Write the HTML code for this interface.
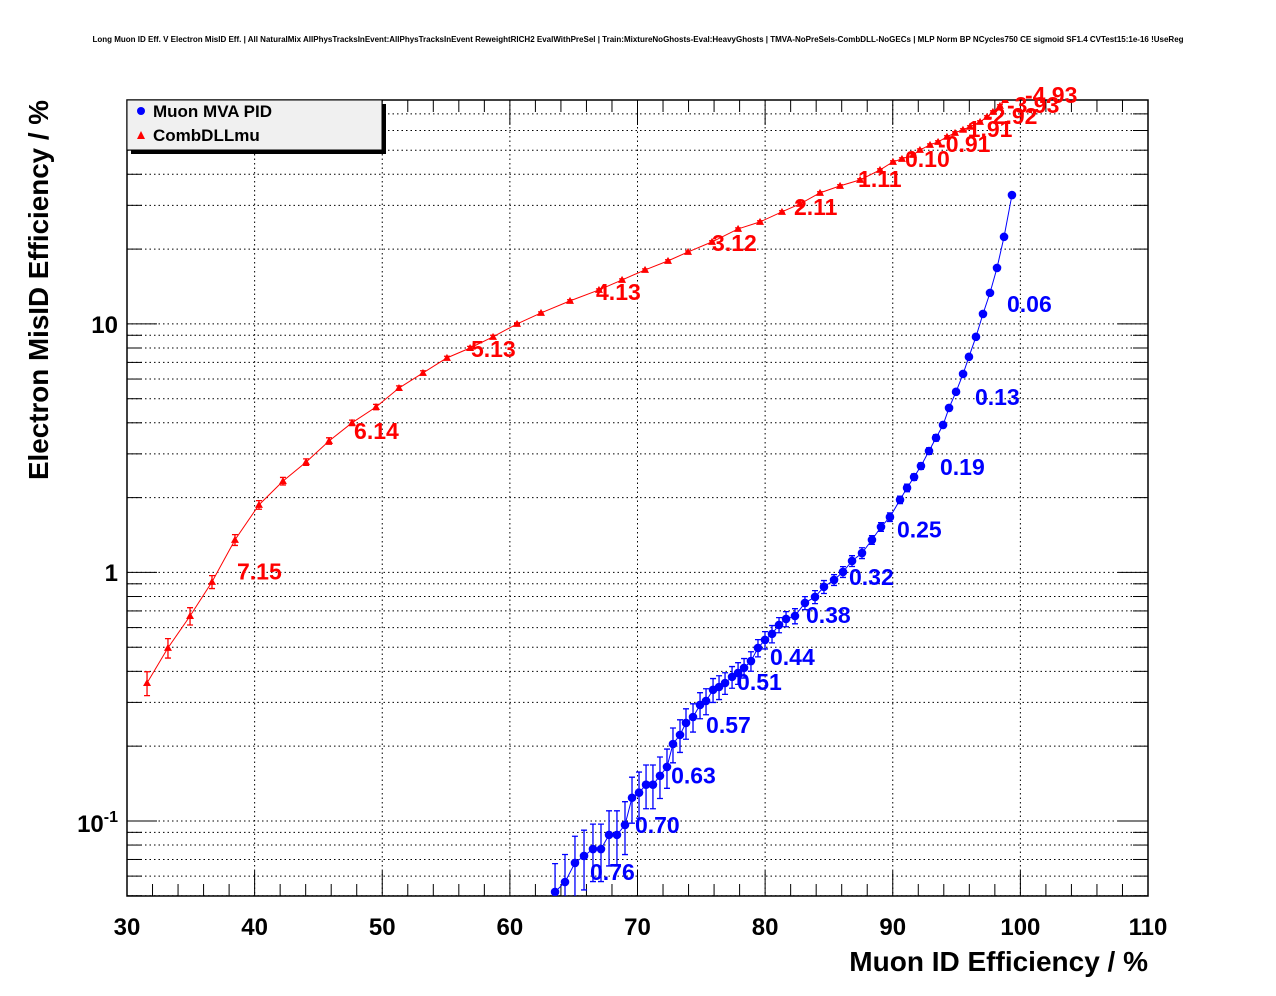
<!DOCTYPE html>
<html><head><meta charset="utf-8"><style>
body{margin:0;background:#fff}
svg{display:block;font-family:"Liberation Sans",Arial,sans-serif}
</style></head><body>
<svg id="chart" width="1276" height="996" viewBox="0 0 1276 996">
<text x="638" y="42" font-size="8" font-weight="bold" text-anchor="middle">Long Muon ID Eff. V Electron MisID Eff. | All NaturalMix AllPhysTracksInEvent:AllPhysTracksInEvent ReweightRICH2 EvalWithPreSel | Train:MixtureNoGhosts-Eval:HeavyGhosts | TMVA-NoPreSels-CombDLL-NoGECs | MLP Norm BP NCycles750 CE sigmoid SF1.4 CVTest15:1e-16 !UseReg</text>
<g id="grid"></g>
<g id="axes"></g>
<g id="series"></g>
<text x="1148" y="971" font-size="28" font-weight="bold" text-anchor="end">Muon ID Efficiency / %</text>
<text transform="translate(48,100) rotate(-90)" font-size="27.8" font-weight="bold" text-anchor="end">Electron MisID Efficiency / %</text>
<g>
<rect x="131" y="104" width="255" height="50" fill="#000"/>
<rect x="127" y="100" width="255" height="50" fill="#f0f0f0" stroke="#000" stroke-width="1"/>
<circle cx="141" cy="111" r="4" fill="#0000ff"/>
<text x="153" y="117" font-size="17" font-weight="bold">Muon MVA PID</text>
<path d="M141,131 L145,139 L137,139 Z" fill="#ff0000"/>
<text x="153" y="141" font-size="17" font-weight="bold">CombDLLmu</text>
</g>
</svg>
<script>
const blueX=[63.54,64.32,65.10,65.81,66.51,67.14,67.77,68.39,69.02,69.57,70.12,70.67,71.21,71.76,72.31,72.78,73.33,73.80,74.35,74.90,75.37,75.92,76.39,76.86,77.41,77.88,78.35,78.89,79.44,79.99,80.54,81.09,81.64,82.34,83.12,83.91,84.61,85.40,86.10,86.81,87.59,88.37,89.08,89.78,90.57,91.12,91.67,92.21,92.84,93.39,93.94,94.41,94.96,95.51,95.97,96.52,97.07,97.62,98.17,98.72,99.34];
const blueY=[0.0518,0.0568,0.0678,0.0723,0.0771,0.0771,0.0879,0.0879,0.0964,0.124,0.130,0.140,0.140,0.152,0.165,0.204,0.222,0.248,0.262,0.293,0.304,0.337,0.346,0.359,0.380,0.394,0.413,0.440,0.497,0.535,0.566,0.615,0.650,0.668,0.754,0.797,0.875,0.933,1.005,1.112,1.197,1.352,1.525,1.67,1.96,2.19,2.42,2.68,3.08,3.48,3.92,4.59,5.33,6.29,7.37,8.87,10.97,13.33,16.8,22.4,33.0];
const blueErrPct=[30,29,28,27,26,26,25,25,24,21,21,20,20,19,18,16,15,14,13,12,12,11,11,10,10,10,9,9,8,8,8,7,7,7,6,6,6,5,5,5,5,4,4,4,3.5,3.5,3,3,3,3,2.5,2.5,2,2,2,2,2,2,2,1.5,1.5];
const redX=[31.57,33.21,34.94,36.66,38.46,40.34,42.22,44.03,45.83,47.63,49.51,51.31,53.19,55.07,56.88,58.68,60.56,62.44,64.71,66.98,68.79,70.59,72.39,73.96,75.84,77.88,79.60,81.32,82.73,84.30,85.87,87.44,89.00,90.02,90.72,91.59,92.13,92.92,93.55,94.25,94.88,95.50,96.05,96.84,97.38,97.85,98.40,98.80,99.3,99.8];
const redY=[0.359,0.497,0.668,0.916,1.352,1.87,2.33,2.78,3.38,4.00,4.63,5.52,6.35,7.30,8.00,8.87,10.0,11.07,12.38,13.70,15.03,16.49,17.93,19.48,21.38,24.11,25.73,28.24,30.40,33.67,35.93,37.97,41.66,44.87,46.13,47.86,50.12,52.5,54.0,56.6,58.7,60.4,62.1,65.0,68.1,71.3,75.4,79.6,84,88];
const redErrPct=[11,9,8,6,5,4,3.5,3,3,2.5,2.5,2,2,1.5,1.5,1.5,1,1,1,1,1,1,1,1,1,1,1,1,1,1,1,1,1,1,1,1,1,1,1,1,1,1,1,1,1,1,1,1,1,1];
const blueLabels=["0.06","0.13","0.19","0.25","0.32","0.38","0.44","0.51","0.57","0.63","0.70","0.76"];
const blueLabelX=[98.95,96.44,93.70,90.33,86.57,83.20,80.38,77.80,75.37,72.63,69.80,66.28];
const blueLabelY=[11.8,4.99,2.61,1.46,0.942,0.662,0.449,0.356,0.239,0.150,0.0946,0.0612];
const redLabels=["7.15","6.14","5.13","4.13","3.12","2.11","1.11","0.10","-0.91","-1.91","-2.92","-3.93","-4.93"];
const redLabelX=[38.62,47.79,56.95,66.75,75.84,82.26,87.28,90.96,93.55,95.27,97.23,98.95,100.36];
const redLabelY=[0.991,3.64,7.79,13.2,20.8,29.0,37.6,45.3,52.0,59.8,67.5,74.6,81.9];
const xTicks=[30,40,50,60,70,80,90,100,110];

const L=127,R=1148,T=100,B=896,XMIN=30,XMAX=110,YMIN=Math.log10(0.0499),YMAX=Math.log10(79.6);
const sx=v=>L+(v-XMIN)/(XMAX-XMIN)*(R-L);
const sy=v=>B-(Math.log10(v)-YMIN)/(YMAX-YMIN)*(B-T);
const NS="http://www.w3.org/2000/svg";
function mk(tag,parent,attrs){const e=document.createElementNS(NS,tag);for(const k in attrs)e.setAttribute(k,attrs[k]);parent.appendChild(e);return e;}
const grid=document.getElementById('grid'),axes=document.getElementById('axes'),series=document.getElementById('series');
for(let v=30;v<=110;v+=2){const x=sx(v);const major=v%10===0;
 if(major&&v>30&&v<110){const g=mk('line',grid,{x1:x,x2:x,y1:T,y2:B,stroke:'#000','stroke-dasharray':'1.5,3','stroke-width':1});}
 const len=major?25:12;
 mk('line',axes,{x1:x,x2:x,y1:B,y2:B-len,stroke:'#000'});
 mk('line',axes,{x1:x,x2:x,y1:T,y2:T+len,stroke:'#000'});
}
xTicks.forEach(v=>{const t=mk('text',axes,{x:sx(v),y:935,'font-size':24,'font-weight':'bold','text-anchor':'middle'});t.textContent=v;
 });
for(let d=-2;d<=1;d++){for(let m=1;m<=9;m++){const v=m*Math.pow(10,d);if(v<0.0499||v>79.6)continue;const y=sy(v);
 const g=mk('line',grid,{x1:L,x2:R,y1:y,y2:y,stroke:'#000','stroke-dasharray':'1.5,3','stroke-width':1});
 
 const len=m===1?30:15;
 mk('line',axes,{x1:L,x2:L+len,y1:y,y2:y,stroke:'#000'});
 mk('line',axes,{x1:R,x2:R-len,y1:y,y2:y,stroke:'#000'});}}
mk('rect',axes,{x:L,y:T,width:R-L,height:B-T,fill:'none',stroke:'#000','stroke-width':1.5});
let t=mk('text',axes,{x:118,y:333,'font-size':24,'font-weight':'bold','text-anchor':'end'});t.textContent='10';

t=mk('text',axes,{x:118,y:581,'font-size':24,'font-weight':'bold','text-anchor':'end'});t.textContent='1';

t=mk('text',axes,{x:118,y:832,'font-size':24,'font-weight':'bold','text-anchor':'end'});

t.innerHTML='10<tspan font-size="16" dy="-10">-1</tspan>';
const defs=mk('defs',document.getElementById('chart'),{});const cp=mk('clipPath',defs,{id:'clip'});mk('rect',cp,{x:L,y:T,width:R-L,height:B-T});
function drawSeries(xs,ys,errs,color,shape,name){
 const g=mk('g',series,{'clip-path':'url(#clip)'});
 const pts=xs.map((x,i)=>sx(x)+','+sy(ys[i])).join(' ');
 mk('polyline',g,{points:pts,fill:'none',stroke:color,'stroke-width':1});
 xs.forEach((x,i)=>{const px=sx(x),py=sy(ys[i]);const e=ys[i]*errs[i]/100;
  const y1=sy(ys[i]+e),y2=sy(Math.max(ys[i]-e,1e-4));
  mk('path',g,{d:`M${px},${y1}V${y2}M${px-3},${y1}h6M${px-3},${y2}h6`,stroke:color,'stroke-width':1.3,fill:'none'});
  let m;
  if(shape==='circle')m=mk('circle',g,{cx:px,cy:py,r:4.3,fill:color});
  else m=mk('path',g,{d:`M${px},${py-4}L${px+4},${py+3}L${px-4},${py+3}Z`,fill:color});
  
 });
}
drawSeries(redX,redY,redErrPct,'#ff0000','tri','combdll-series');
drawSeries(blueX,blueY,blueErrPct,'#0000ff','circle','mva-series');
function drawLabels(txt,xs,ys,color,name){txt.forEach((s,i)=>{const e=mk('text',series,{x:sx(xs[i]),y:sy(ys[i]),'font-size':23,'font-weight':'bold',fill:color,'dominant-baseline':'middle'});e.textContent=s;
 });}
drawLabels(redLabels,redLabelX,redLabelY,'#ff0000','combdll-cut-label');
drawLabels(blueLabels,blueLabelX,blueLabelY,'#0000ff','mva-cut-label');
</script>
</body></html>
